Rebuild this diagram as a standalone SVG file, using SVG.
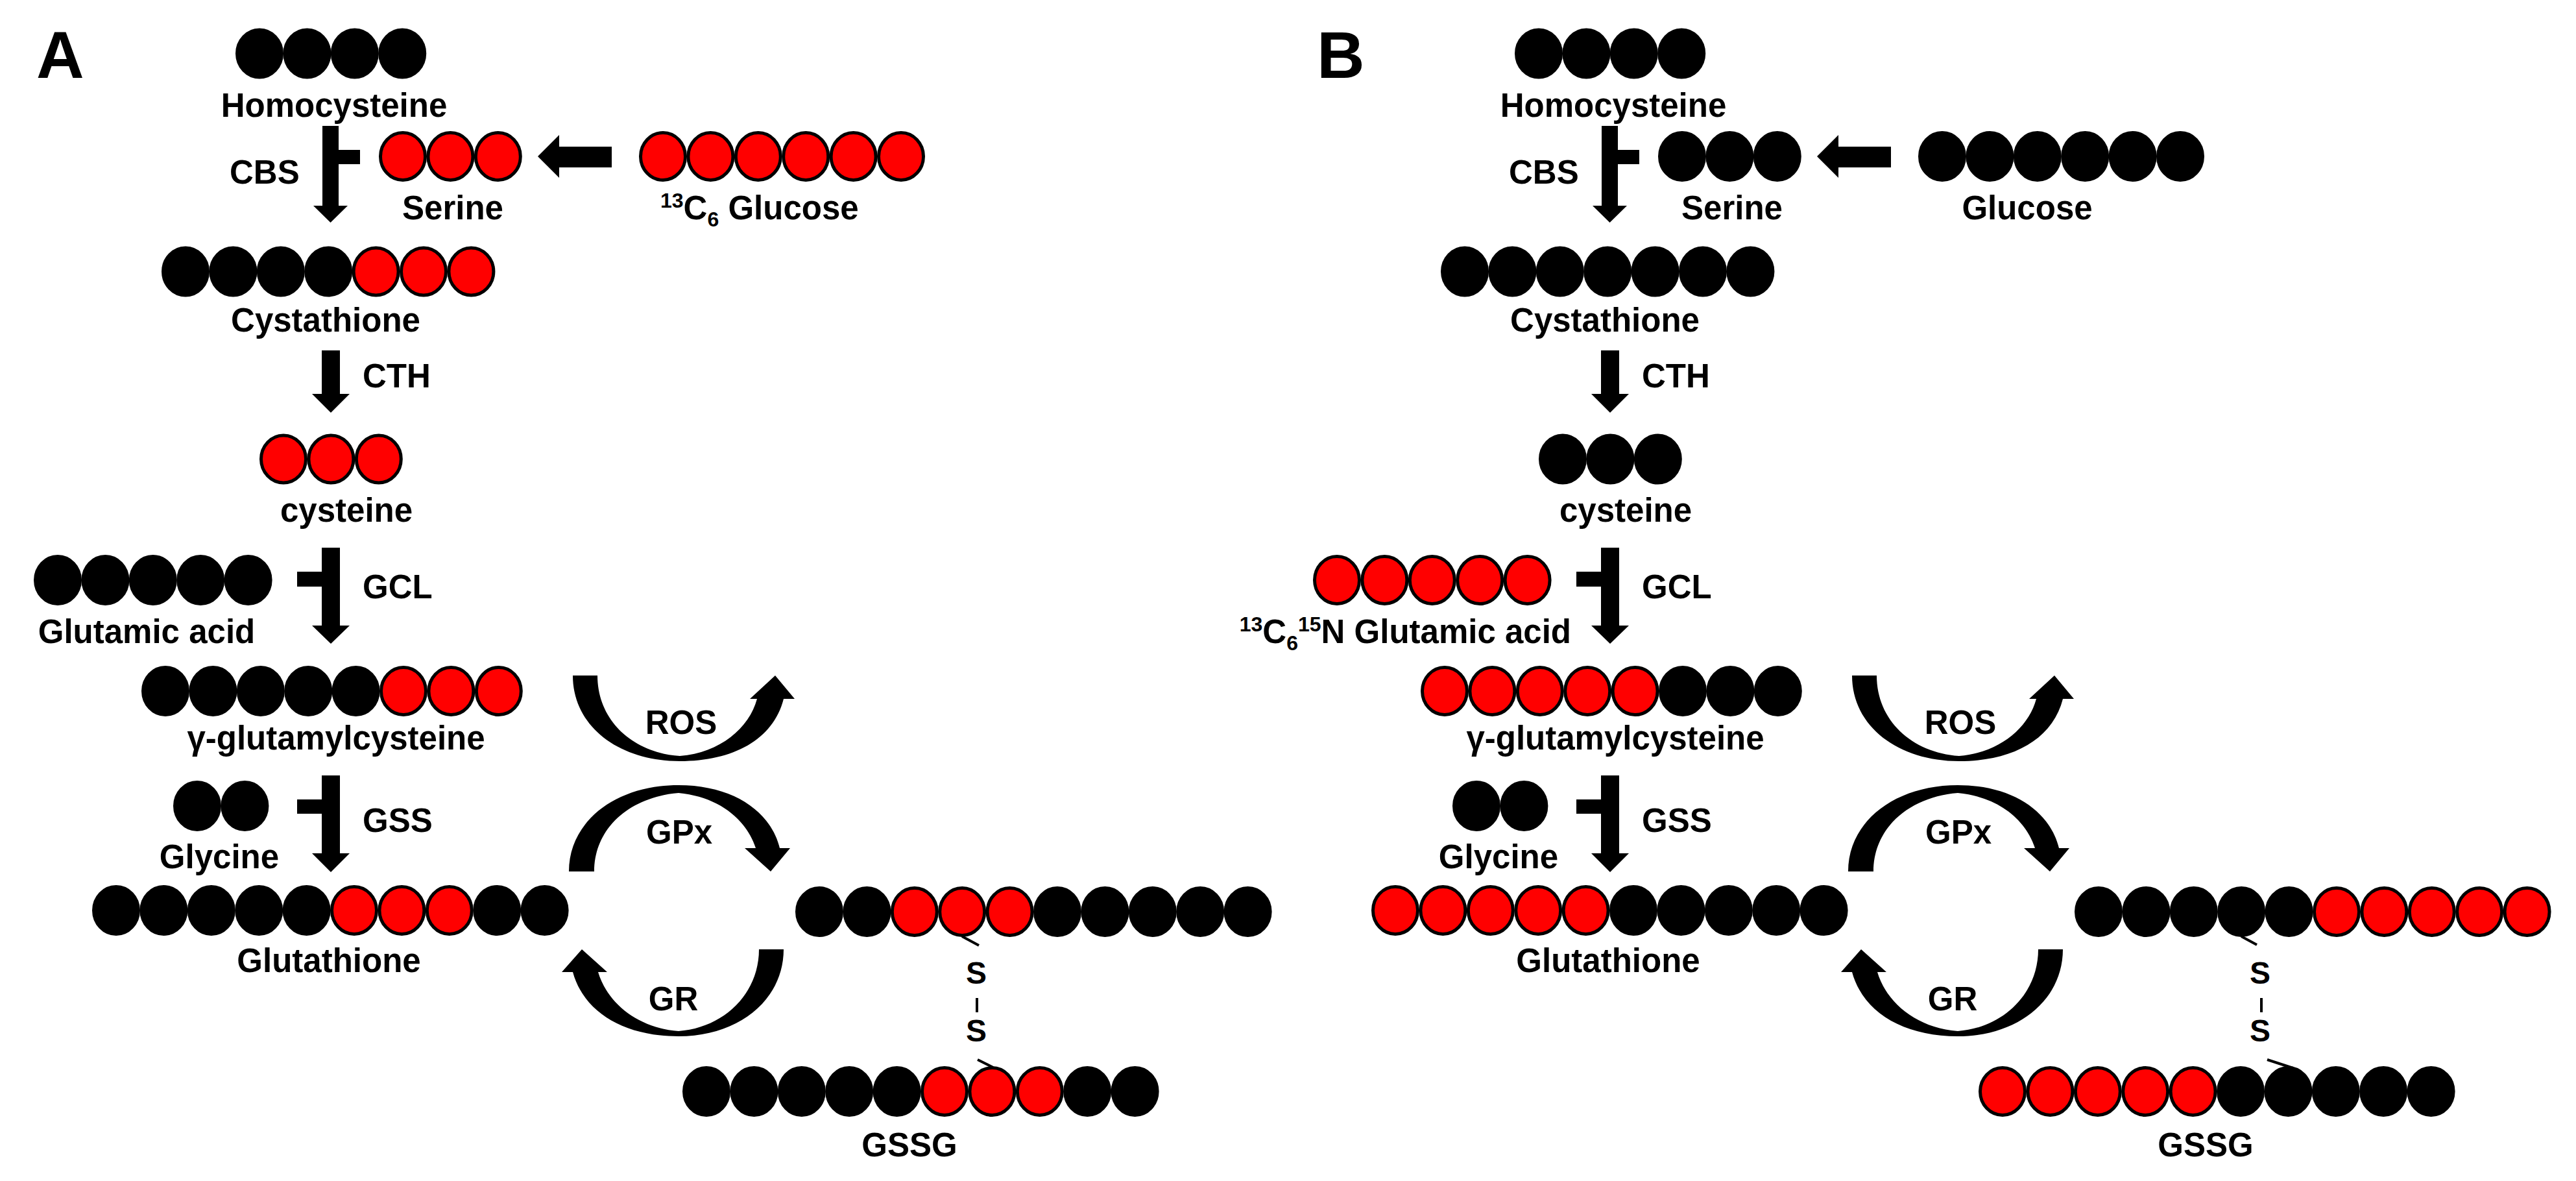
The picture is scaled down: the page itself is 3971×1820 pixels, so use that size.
<svg xmlns="http://www.w3.org/2000/svg" width="3971" height="1820" viewBox="0 0 3971 1820">
<style>
.k{fill:#000;stroke:#000;stroke-width:5}
.r{fill:#ff0000;stroke:#000;stroke-width:5}
.t{font-family:"Liberation Sans",Arial,sans-serif;font-weight:bold;font-size:51px;fill:#000}
.m{text-anchor:middle}
.s{font-size:32px}
.p{font-family:"Liberation Sans",Arial,sans-serif;font-weight:bold;font-size:102px;fill:#000}
.ar{fill:#000;stroke:none}
.tk{stroke:#000;stroke-width:4;fill:none}
</style>
<rect width="3971" height="1820" fill="#fff"/>

<!-- ================= PANEL A ================= -->
<g id="panelA">
<text class="p" x="56" y="120">A</text>

<g id="A-homocysteine">
<g transform="translate(400,82.5)"><ellipse class="k" cx="0" rx="34.5" ry="36.5"/><ellipse class="k" cx="73.4" rx="34.5" ry="36.5"/><ellipse class="k" cx="146.8" rx="34.5" ry="36.5"/><ellipse class="k" cx="220.2" rx="34.5" ry="36.5"/></g>
<text class="t m" x="515" y="180">Homocysteine</text>
</g>

<g id="A-serine">
<g transform="translate(621,241)"><ellipse class="r" cx="0" rx="34.5" ry="36.5"/><ellipse class="r" cx="73.4" rx="34.5" ry="36.5"/><ellipse class="r" cx="146.8" rx="34.5" ry="36.5"/></g>
<text class="t m" x="698" y="338">Serine</text>
</g>

<g id="A-glucose">
<g transform="translate(1022,241)"><ellipse class="r" cx="0" rx="34.5" ry="36.5"/><ellipse class="r" cx="73.4" rx="34.5" ry="36.5"/><ellipse class="r" cx="146.8" rx="34.5" ry="36.5"/><ellipse class="r" cx="220.2" rx="34.5" ry="36.5"/><ellipse class="r" cx="293.6" rx="34.5" ry="36.5"/><ellipse class="r" cx="367" rx="34.5" ry="36.5"/></g>
<text class="t" x="1018" y="338"><tspan class="s" dy="-18">13</tspan><tspan dy="18">C</tspan><tspan class="s" dy="11">6</tspan><tspan dy="-11"> Glucose</tspan></text>
</g>

<g id="A-cystathione">
<g transform="translate(286,418.5)"><ellipse class="k" cx="0" rx="34.5" ry="36.5"/><ellipse class="k" cx="73.4" rx="34.5" ry="36.5"/><ellipse class="k" cx="146.8" rx="34.5" ry="36.5"/><ellipse class="k" cx="220.2" rx="34.5" ry="36.5"/><ellipse class="r" cx="293.6" rx="34.5" ry="36.5"/><ellipse class="r" cx="367" rx="34.5" ry="36.5"/><ellipse class="r" cx="440.4" rx="34.5" ry="36.5"/></g>
<text class="t m" x="502" y="511">Cystathione</text>
</g>

<g id="A-cysteine">
<g transform="translate(437,707.5)"><ellipse class="r" cx="0" rx="34.5" ry="36.5"/><ellipse class="r" cx="73.4" rx="34.5" ry="36.5"/><ellipse class="r" cx="146.8" rx="34.5" ry="36.5"/></g>
<text class="t m" x="534" y="804">cysteine</text>
</g>

<g id="A-glutamic">
<g transform="translate(89,894)"><ellipse class="k" cx="0" rx="34.5" ry="36.5"/><ellipse class="k" cx="73.4" rx="34.5" ry="36.5"/><ellipse class="k" cx="146.8" rx="34.5" ry="36.5"/><ellipse class="k" cx="220.2" rx="34.5" ry="36.5"/><ellipse class="k" cx="293.6" rx="34.5" ry="36.5"/></g>
<text class="t m" x="226" y="991">Glutamic acid</text>
</g>

<g id="A-ggc">
<g transform="translate(255,1065)"><ellipse class="k" cx="0" rx="34.5" ry="36.5"/><ellipse class="k" cx="73.4" rx="34.5" ry="36.5"/><ellipse class="k" cx="146.8" rx="34.5" ry="36.5"/><ellipse class="k" cx="220.2" rx="34.5" ry="36.5"/><ellipse class="k" cx="293.6" rx="34.5" ry="36.5"/><ellipse class="r" cx="367" rx="34.5" ry="36.5"/><ellipse class="r" cx="440.4" rx="34.5" ry="36.5"/><ellipse class="r" cx="513.8" rx="34.5" ry="36.5"/></g>
<text class="t m" x="518" y="1155">γ-glutamylcysteine</text>
</g>

<g id="A-glycine">
<g transform="translate(304,1242)"><ellipse class="k" cx="0" rx="34.5" ry="36.5"/><ellipse class="k" cx="73.4" rx="34.5" ry="36.5"/></g>
<text class="t m" x="338" y="1338">Glycine</text>
</g>

<g id="A-glutathione">
<g transform="translate(179,1403)"><ellipse class="k" cx="0" rx="34.5" ry="36.5"/><ellipse class="k" cx="73.4" rx="34.5" ry="36.5"/><ellipse class="k" cx="146.8" rx="34.5" ry="36.5"/><ellipse class="k" cx="220.2" rx="34.5" ry="36.5"/><ellipse class="k" cx="293.6" rx="34.5" ry="36.5"/><ellipse class="r" cx="367" rx="34.5" ry="36.5"/><ellipse class="r" cx="440.4" rx="34.5" ry="36.5"/><ellipse class="r" cx="513.8" rx="34.5" ry="36.5"/><ellipse class="k" cx="587.2" rx="34.5" ry="36.5"/><ellipse class="k" cx="660.6" rx="34.5" ry="36.5"/></g>
<text class="t m" x="507" y="1498">Glutathione</text>
</g>

<g id="A-gssg">
<g transform="translate(1263,1405)"><ellipse class="k" cx="0" rx="34.5" ry="36.5"/><ellipse class="k" cx="73.4" rx="34.5" ry="36.5"/><ellipse class="r" cx="146.8" rx="34.5" ry="36.5"/><ellipse class="r" cx="220.2" rx="34.5" ry="36.5"/><ellipse class="r" cx="293.6" rx="34.5" ry="36.5"/><ellipse class="k" cx="367" rx="34.5" ry="36.5"/><ellipse class="k" cx="440.4" rx="34.5" ry="36.5"/><ellipse class="k" cx="513.8" rx="34.5" ry="36.5"/><ellipse class="k" cx="587.2" rx="34.5" ry="36.5"/><ellipse class="k" cx="660.6" rx="34.5" ry="36.5"/></g>
<g transform="translate(1089,1682)"><ellipse class="k" cx="0" rx="34.5" ry="36.5"/><ellipse class="k" cx="73.4" rx="34.5" ry="36.5"/><ellipse class="k" cx="146.8" rx="34.5" ry="36.5"/><ellipse class="k" cx="220.2" rx="34.5" ry="36.5"/><ellipse class="k" cx="293.6" rx="34.5" ry="36.5"/><ellipse class="r" cx="367" rx="34.5" ry="36.5"/><ellipse class="r" cx="440.4" rx="34.5" ry="36.5"/><ellipse class="r" cx="513.8" rx="34.5" ry="36.5"/><ellipse class="k" cx="587.2" rx="34.5" ry="36.5"/><ellipse class="k" cx="660.6" rx="34.5" ry="36.5"/></g>
<line class="tk" x1="1483" y1="1443" x2="1509" y2="1457"/>
<text class="t m" x="1505" y="1516" style="font-size:48px">S</text>
<line class="tk" x1="1506" y1="1538" x2="1506" y2="1560"/>
<text class="t m" x="1505" y="1605" style="font-size:48px">S</text>
<line class="tk" x1="1507" y1="1633" x2="1531" y2="1645"/>
<text class="t m" x="1402" y="1782">GSSG</text>
</g>
</g>

<!-- ================= PANEL B ================= -->
<g id="panelB">
<text class="p" x="2030" y="120">B</text>

<g id="B-homocysteine">
<g transform="translate(2372,82.5)"><ellipse class="k" cx="0" rx="34.5" ry="36.5"/><ellipse class="k" cx="73.4" rx="34.5" ry="36.5"/><ellipse class="k" cx="146.8" rx="34.5" ry="36.5"/><ellipse class="k" cx="220.2" rx="34.5" ry="36.5"/></g>
<text class="t m" x="2487" y="180">Homocysteine</text>
</g>

<g id="B-serine">
<g transform="translate(2593,241)"><ellipse class="k" cx="0" rx="34.5" ry="36.5"/><ellipse class="k" cx="73.4" rx="34.5" ry="36.5"/><ellipse class="k" cx="146.8" rx="34.5" ry="36.5"/></g>
<text class="t m" x="2670" y="338">Serine</text>
</g>

<g id="B-glucose">
<g transform="translate(2994,241)"><ellipse class="k" cx="0" rx="34.5" ry="36.5"/><ellipse class="k" cx="73.4" rx="34.5" ry="36.5"/><ellipse class="k" cx="146.8" rx="34.5" ry="36.5"/><ellipse class="k" cx="220.2" rx="34.5" ry="36.5"/><ellipse class="k" cx="293.6" rx="34.5" ry="36.5"/><ellipse class="k" cx="367" rx="34.5" ry="36.5"/></g>
<text class="t m" x="3125" y="338">Glucose</text>
</g>

<g id="B-cystathione">
<g transform="translate(2258,418.5)"><ellipse class="k" cx="0" rx="34.5" ry="36.5"/><ellipse class="k" cx="73.4" rx="34.5" ry="36.5"/><ellipse class="k" cx="146.8" rx="34.5" ry="36.5"/><ellipse class="k" cx="220.2" rx="34.5" ry="36.5"/><ellipse class="k" cx="293.6" rx="34.5" ry="36.5"/><ellipse class="k" cx="367" rx="34.5" ry="36.5"/><ellipse class="k" cx="440.4" rx="34.5" ry="36.5"/></g>
<text class="t m" x="2474" y="511">Cystathione</text>
</g>

<g id="B-cysteine">
<g transform="translate(2409,707.5)"><ellipse class="k" cx="0" rx="34.5" ry="36.5"/><ellipse class="k" cx="73.4" rx="34.5" ry="36.5"/><ellipse class="k" cx="146.8" rx="34.5" ry="36.5"/></g>
<text class="t m" x="2506" y="804">cysteine</text>
</g>

<g id="B-glutamic">
<g transform="translate(2061,894)"><ellipse class="r" cx="0" rx="34.5" ry="36.5"/><ellipse class="r" cx="73.4" rx="34.5" ry="36.5"/><ellipse class="r" cx="146.8" rx="34.5" ry="36.5"/><ellipse class="r" cx="220.2" rx="34.5" ry="36.5"/><ellipse class="r" cx="293.6" rx="34.5" ry="36.5"/></g>
<text class="t" x="2422" y="991" text-anchor="end"><tspan class="s" dy="-18">13</tspan><tspan dy="18">C</tspan><tspan class="s" dy="11">6</tspan><tspan class="s" dy="-29">15</tspan><tspan dy="18">N Glutamic acid</tspan></text>
</g>

<g id="B-ggc">
<g transform="translate(2227,1065)"><ellipse class="r" cx="0" rx="34.5" ry="36.5"/><ellipse class="r" cx="73.4" rx="34.5" ry="36.5"/><ellipse class="r" cx="146.8" rx="34.5" ry="36.5"/><ellipse class="r" cx="220.2" rx="34.5" ry="36.5"/><ellipse class="r" cx="293.6" rx="34.5" ry="36.5"/><ellipse class="k" cx="367" rx="34.5" ry="36.5"/><ellipse class="k" cx="440.4" rx="34.5" ry="36.5"/><ellipse class="k" cx="513.8" rx="34.5" ry="36.5"/></g>
<text class="t m" x="2490" y="1155">γ-glutamylcysteine</text>
</g>

<g id="B-glycine">
<g transform="translate(2276,1242)"><ellipse class="k" cx="0" rx="34.5" ry="36.5"/><ellipse class="k" cx="73.4" rx="34.5" ry="36.5"/></g>
<text class="t m" x="2310" y="1338">Glycine</text>
</g>

<g id="B-glutathione">
<g transform="translate(2151,1403)"><ellipse class="r" cx="0" rx="34.5" ry="36.5"/><ellipse class="r" cx="73.4" rx="34.5" ry="36.5"/><ellipse class="r" cx="146.8" rx="34.5" ry="36.5"/><ellipse class="r" cx="220.2" rx="34.5" ry="36.5"/><ellipse class="r" cx="293.6" rx="34.5" ry="36.5"/><ellipse class="k" cx="367" rx="34.5" ry="36.5"/><ellipse class="k" cx="440.4" rx="34.5" ry="36.5"/><ellipse class="k" cx="513.8" rx="34.5" ry="36.5"/><ellipse class="k" cx="587.2" rx="34.5" ry="36.5"/><ellipse class="k" cx="660.6" rx="34.5" ry="36.5"/></g>
<text class="t m" x="2479" y="1498">Glutathione</text>
</g>

<g id="B-gssg">
<g transform="translate(3235,1405)"><ellipse class="k" cx="0" rx="34.5" ry="36.5"/><ellipse class="k" cx="73.4" rx="34.5" ry="36.5"/><ellipse class="k" cx="146.8" rx="34.5" ry="36.5"/><ellipse class="k" cx="220.2" rx="34.5" ry="36.5"/><ellipse class="k" cx="293.6" rx="34.5" ry="36.5"/><ellipse class="r" cx="367" rx="34.5" ry="36.5"/><ellipse class="r" cx="440.4" rx="34.5" ry="36.5"/><ellipse class="r" cx="513.8" rx="34.5" ry="36.5"/><ellipse class="r" cx="587.2" rx="34.5" ry="36.5"/><ellipse class="r" cx="660.6" rx="34.5" ry="36.5"/></g>
<g transform="translate(3087,1682)"><ellipse class="r" cx="0" rx="34.5" ry="36.5"/><ellipse class="r" cx="73.4" rx="34.5" ry="36.5"/><ellipse class="r" cx="146.8" rx="34.5" ry="36.5"/><ellipse class="r" cx="220.2" rx="34.5" ry="36.5"/><ellipse class="r" cx="293.6" rx="34.5" ry="36.5"/><ellipse class="k" cx="367" rx="34.5" ry="36.5"/><ellipse class="k" cx="440.4" rx="34.5" ry="36.5"/><ellipse class="k" cx="513.8" rx="34.5" ry="36.5"/><ellipse class="k" cx="587.2" rx="34.5" ry="36.5"/><ellipse class="k" cx="660.6" rx="34.5" ry="36.5"/></g>
<line class="tk" x1="3455" y1="1443" x2="3479" y2="1456"/>
<text class="t m" x="3484" y="1516" style="font-size:48px">S</text>
<line class="tk" x1="3486" y1="1538" x2="3486" y2="1560"/>
<text class="t m" x="3484" y="1605" style="font-size:48px">S</text>
<line class="tk" x1="3495" y1="1633" x2="3535" y2="1646"/>
<text class="t m" x="3400" y="1782">GSSG</text>
</g>
</g>

<!-- ================= CONNECTORS ================= -->
<g id="connectors">
<g id="A-connectors">
<path class="ar" d="M497 194 H522 V231 H555 V253 H522 V317 H536 L509.5 343 L483 317 H497 Z"/>
<text class="t" x="354" y="283">CBS</text>
<path class="ar" d="M829 241 L862 208 V226 H943 V258 H862 V274 Z"/>
<path class="ar" d="M496 540 H524 V607 H539 L510 636 L481 607 H496 Z"/>
<text class="t" x="559" y="597">CTH</text>
<path class="ar" d="M496 844 H524 V964 H539 L510 992 L481 964 H496 V904 H458 V881 H496 Z"/>
<text class="t" x="559" y="922">GCL</text>
<path class="ar" d="M496 1195 H524 V1315 H539 L510 1344 L481 1315 H496 V1254 H458 V1232 H496 Z"/>
<text class="t" x="559" y="1282">GSS</text>
<path class="ar" d="M883 1041 L921 1041 C921 1110 975 1160 1048 1165 C1110 1160 1155 1122 1167 1077 L1156 1077 L1195 1041 L1225 1077 L1208 1077 C1192 1140 1130 1173 1048 1173 C955 1173 883 1120 883 1041 Z"/>
<text class="t m" x="1050" y="1131">ROS</text>
<path class="ar" d="M877 1343 L916 1343 C916 1275 972 1228 1046 1222 C1108 1228 1150 1262 1165 1307 L1148 1307 L1188 1343 L1218 1307 L1202 1307 C1188 1250 1130 1210 1046 1210 C950 1210 877 1265 877 1343 Z"/>
<text class="t m" x="1047" y="1300">GPx</text>
<path class="ar" d="M1208 1463 L1170 1463 C1170 1532 1115 1584 1046 1589 C982 1584 936 1545 922 1498 L936 1498 L897 1463 L866 1498 L883 1498 C900 1560 962 1597 1046 1597 C1140 1597 1208 1540 1208 1463 Z"/>
<text class="t m" x="1038" y="1557">GR</text>
</g>
<g id="B-connectors" transform="translate(1972,0)">
<path class="ar" d="M497 194 H522 V231 H555 V253 H522 V317 H536 L509.5 343 L483 317 H497 Z"/>
<text class="t" x="354" y="283">CBS</text>
<path class="ar" d="M829 241 L862 208 V226 H943 V258 H862 V274 Z"/>
<path class="ar" d="M496 540 H524 V607 H539 L510 636 L481 607 H496 Z"/>
<text class="t" x="559" y="597">CTH</text>
<path class="ar" d="M496 844 H524 V964 H539 L510 992 L481 964 H496 V904 H458 V881 H496 Z"/>
<text class="t" x="559" y="922">GCL</text>
<path class="ar" d="M496 1195 H524 V1315 H539 L510 1344 L481 1315 H496 V1254 H458 V1232 H496 Z"/>
<text class="t" x="559" y="1282">GSS</text>
<path class="ar" d="M883 1041 L921 1041 C921 1110 975 1160 1048 1165 C1110 1160 1155 1122 1167 1077 L1156 1077 L1195 1041 L1225 1077 L1208 1077 C1192 1140 1130 1173 1048 1173 C955 1173 883 1120 883 1041 Z"/>
<text class="t m" x="1050" y="1131">ROS</text>
<path class="ar" d="M877 1343 L916 1343 C916 1275 972 1228 1046 1222 C1108 1228 1150 1262 1165 1307 L1148 1307 L1188 1343 L1218 1307 L1202 1307 C1188 1250 1130 1210 1046 1210 C950 1210 877 1265 877 1343 Z"/>
<text class="t m" x="1047" y="1300">GPx</text>
<path class="ar" d="M1208 1463 L1170 1463 C1170 1532 1115 1584 1046 1589 C982 1584 936 1545 922 1498 L936 1498 L897 1463 L866 1498 L883 1498 C900 1560 962 1597 1046 1597 C1140 1597 1208 1540 1208 1463 Z"/>
<text class="t m" x="1038" y="1557">GR</text>
</g>
</g>
</svg>
